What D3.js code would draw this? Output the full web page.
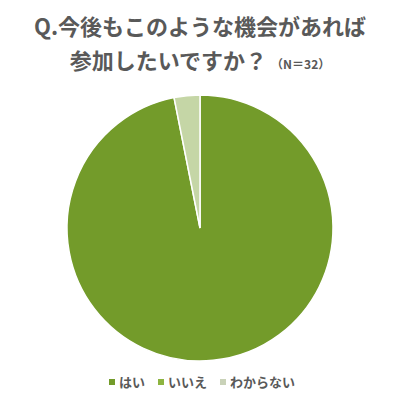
<!DOCTYPE html>
<html>
<head>
<meta charset="utf-8">
<script src="https://cdn.jsdelivr.net/npm/d3@7"></script>
<style>
  body { margin: 0; background: #fff; }
  svg { display: block; font-family: "Noto Sans CJK JP", "Noto Sans", sans-serif; }
</style>
</head>
<body>
<svg id="chart" width="400" height="400"></svg>
<script>
const categories = ['はい', 'いいえ', 'わからない'];
const counts = [31, 0, 1];
const colors = ['#739B2A', '#8DB440', '#C5D6A6'];
const legendColors = ['#739B2A', '#8DB440', '#C9D2B8'];

const svg = d3.select('#chart');
const width = 400;
const cx = 200, cy = 228, radius = 133;

// title
svg.append('text')
  .attr('x', width / 2)
  .attr('y', 35)
  .attr('text-anchor', 'middle')
  .attr('font-size', 22)
  .attr('font-weight', 'bold')
  .attr('fill', '#595959')
  .text('Q.今後もこのような機会があれば');

const line2 = svg.append('text')
  .attr('x', width / 2)
  .attr('y', 69)
  .attr('text-anchor', 'middle')
  .attr('font-weight', 'bold')
  .attr('fill', '#595959');
line2.append('tspan').attr('font-size', 22).text('参加したいですか？');
line2.append('tspan').attr('font-size', 12).attr('dx', 4).text('（N＝32）');

// pie
const data = categories.map((c, i) => ({ name: c, value: counts[i], color: colors[i] }));
const pie = d3.pie().sort(null).value(d => d.value);
const arc = d3.arc().innerRadius(0).outerRadius(radius);

svg.append('g')
  .attr('transform', `translate(${cx},${cy})`)
  .selectAll('path')
  .data(pie(data).filter(d => d.data.value > 0))
  .enter()
  .append('path')
  .attr('d', arc)
  .attr('fill', d => d.data.color)
  .attr('stroke', '#fff')
  .attr('stroke-width', 1.5);

// legend
const legendX = [109, 158, 220];
const legend = svg.append('g');
categories.forEach((c, i) => {
  const g = legend.append('g').attr('transform', `translate(${legendX[i]},382)`);
  g.append('rect')
    .attr('x', 0).attr('y', -3)
    .attr('width', 6).attr('height', 6)
    .attr('fill', legendColors[i]);
  g.append('text')
    .attr('x', 10).attr('y', 0)
    .attr('dy', '0.35em')
    .attr('font-size', 13)
    .attr('font-weight', 'bold')
    .attr('fill', '#595959')
    .text(c);
});
</script>
</body>
</html>
